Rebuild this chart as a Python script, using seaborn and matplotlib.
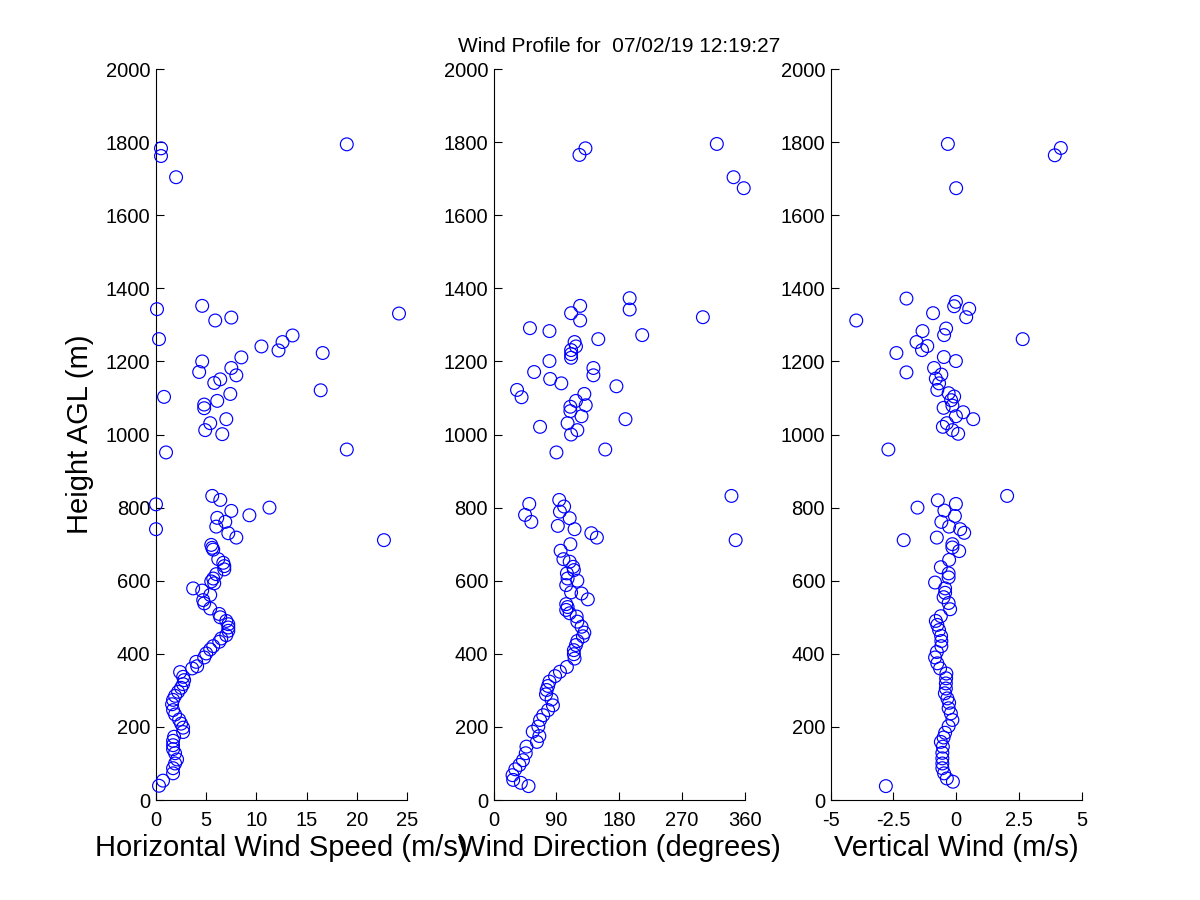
import matplotlib
matplotlib.use("Agg")
import matplotlib.pyplot as plt
import seaborn as sns
import numpy as np

# ---------------- data ----------------
speed_height = [39, 53, 73, 87, 100, 111, 128, 139, 150, 162, 173, 186, 198, 209, 220,
                234, 246, 262, 274, 285, 296, 307, 317, 328, 337, 350, 360, 366, 378, 390,
                401, 412, 421, 433, 442, 451, 463, 472, 481, 490, 500, 509, 524, 538, 547,
                561, 573, 579, 593, 598, 606, 618, 631, 640, 649, 659, 685, 690, 698, 711,
                718, 730, 741, 748, 761, 772, 779, 791, 800, 809, 821, 832, 951, 959, 1001,
                1012, 1031, 1042, 1072, 1082, 1092, 1103, 1111, 1121, 1141, 1151, 1162, 1171,
                1182, 1200, 1211, 1223, 1230, 1241, 1253, 1261, 1271, 1312, 1320, 1331, 1343,
                1352, 1704, 1762, 1783, 1794]
speed_value = [0.3, 0.7, 1.7, 1.7, 1.9, 2.1, 1.9, 1.7, 1.7, 1.7, 1.8, 2.7, 2.7, 2.5, 2.3,
               1.9, 1.7, 1.6, 1.7, 1.9, 2.2, 2.5, 2.7, 2.8, 2.7, 2.4, 3.6, 4.1, 4.0, 4.8,
               5.0, 5.4, 5.7, 6.3, 6.5, 7.0, 7.2, 7.2, 7.2, 7.0, 6.4, 6.3, 5.4, 4.8, 4.7,
               5.4, 4.6, 3.7, 5.8, 5.5, 5.7, 6.0, 6.8, 6.8, 6.7, 6.2, 5.7, 5.6, 5.5, 22.7,
               8.0, 7.2, 0.0, 6.0, 6.9, 6.1, 9.3, 7.5, 11.3, 0.0, 6.4, 5.6, 1.0, 19.0, 6.6,
               4.9, 5.4, 7.0, 4.8, 4.8, 6.1, 0.8, 7.4, 16.4, 5.8, 6.4, 8.0, 4.3,
               7.5, 4.6, 8.5, 16.6, 12.2, 10.5, 12.6, 0.3, 13.6, 5.9, 7.5, 24.2, 0.1,
               4.6, 2.0, 0.5, 0.5, 19.0]

direction_height = [38, 47, 55, 68, 84, 96, 109, 128, 146, 159, 175, 187, 201, 219, 232,
                    246, 259, 275, 289, 301, 312, 324, 339, 351, 364, 387, 399, 410, 424, 435,
                    448, 458, 474, 488, 502, 511, 520, 528, 536, 549, 565, 568, 588, 600, 606,
                    620, 629, 638, 652, 659, 682, 700, 711, 718, 730, 741, 750, 761, 771, 780,
                    789, 803, 810, 821, 832, 951, 959, 1000, 1012, 1021, 1031, 1042, 1050, 1064,
                    1076, 1080, 1092, 1102, 1111, 1122, 1132, 1140, 1152, 1162, 1171, 1182, 1201,
                    1210, 1220, 1231, 1241, 1253, 1261, 1272, 1283, 1291, 1312, 1321, 1332, 1342,
                    1352, 1373, 1674, 1704, 1765, 1783, 1795]
direction_value = [50, 39, 28, 27, 31, 37, 42, 46, 47, 62, 65.5, 56, 64, 66.5, 71,
                   78, 85, 83, 75, 76, 78, 80, 88, 95, 105, 116, 115, 115, 118, 120,
                   128, 130, 126, 120, 119, 109, 104, 106, 104, 135, 126, 111, 104, 120, 106,
                   105, 115, 114, 109, 100, 96, 110, 347, 148, 140, 116, 92, 54, 109, 45,
                   95, 101, 51, 94, 341, 90, 160, 111, 120, 66.5, 106, 189, 126, 110,
                   110, 132, 118, 40, 130, 33.5, 176, 97, 81, 143, 58, 143, 80,
                   111, 111, 111, 118, 116, 150, 213, 80, 52, 124, 300, 111, 195,
                   124, 195, 358.6, 344, 123, 131.6, 320]

vertical_height = [38, 50, 59, 73, 87, 100, 114, 129, 146, 159, 171, 184, 202, 219, 237,
                   251, 266, 278, 292, 305, 319, 333, 346, 360, 374, 390, 405, 421, 435, 449,
                   465, 479, 490, 503, 522, 539, 555, 567, 579, 595, 609, 620, 637, 657, 681,
                   691, 700, 711, 718, 731, 741, 748, 761, 777, 792, 800, 810, 820, 832, 959,
                   1002, 1012, 1021, 1031, 1042, 1050, 1061, 1073, 1079, 1094, 1104, 1113, 1122,
                   1140, 1153, 1164, 1170, 1182, 1201, 1212, 1223, 1231, 1242, 1253, 1261, 1272,
                   1283, 1290, 1312, 1321, 1332, 1344, 1351, 1363, 1372, 1674, 1764, 1784, 1795]
vertical_value = [-2.8, -0.13, -0.37, -0.48, -0.55, -0.55, -0.55, -0.55, -0.53, -0.61, -0.5, -0.44, -0.3, -0.15, -0.21,
                  -0.3, -0.28, -0.35, -0.45, -0.41, -0.41, -0.4, -0.39, -0.64, -0.75, -0.84, -0.77, -0.59, -0.59, -0.6,
                  -0.68, -0.75, -0.81, -0.61, -0.24, -0.3, -0.5, -0.44, -0.44, -0.84, -0.3, -0.3, -0.61, -0.28, 0.12,
                  -0.15, -0.15, -2.09, -0.77, 0.32, 0.16, -0.28, -0.59, -0.05, -0.47, -1.54, -0.01, -0.73, 2.03, -2.7,
                  0.08, -0.15, -0.53, -0.37, 0.68, -0.01, 0.28, -0.5, -0.15, -0.2, -0.08, -0.3, -0.75,
                  -0.68, -0.81, -0.59, -1.98, -0.88, -0.01, -0.49, -2.38, -1.36, -1.15, -1.58, 2.65, -0.48,
                  -1.34, -0.4, -3.98, 0.4, -0.92, 0.52, -0.08, -0.01, -1.98, 0.0, 3.93, 4.17, -0.33]

speed_ticks = [0, 5, 10, 15, 20, 25]
direction_ticks = [0, 90, 180, 270, 360]
vertical_ticks = [-5, -2.5, 0, 2.5, 5]
vertical_ticklabels = ["-5", "-2.5", "0", "2.5", "5"]
height_ticks = list(range(0, 2001, 200))

title_text = "Wind Profile for  07/02/19 12:19:27"
xlabels = ["Horizontal Wind Speed (m/s)", "Wind Direction (degrees)", "Vertical Wind (m/s)"]
ylabel_text = "Height AGL (m)"

# ---------------- styling ----------------
sns.set_theme(style="white")
plt.rcParams["font.family"] = ["Liberation Sans", "DejaVu Sans"]
plt.rcParams["xtick.direction"] = "in"
plt.rcParams["ytick.direction"] = "in"
plt.rcParams["axes.edgecolor"] = "black"
plt.rcParams["axes.linewidth"] = 0.8
plt.rcParams["text.color"] = "black"
plt.rcParams["axes.labelcolor"] = "black"
plt.rcParams["xtick.color"] = "black"
plt.rcParams["ytick.color"] = "black"

fig = plt.figure(figsize=(12, 9), dpi=100)
fig.patch.set_facecolor("white")

W = 0.2092
lefts = [0.130, 0.4114, 0.6922]
bottom, height = 0.1111, 0.8122
axes = [fig.add_axes([l, bottom, W, height]) for l in lefts]

datasets = [(speed_value, speed_height), (direction_value, direction_height),
            (vertical_value, vertical_height)]
xlims = [(0, 25), (0, 360), (-5, 5)]
xticks = [speed_ticks, direction_ticks, vertical_ticks]

for i, ax in enumerate(axes):
    xv, hv = datasets[i]
    sns.scatterplot(x=xv, y=hv, ax=ax, marker="o", s=85, facecolor="none",
                    edgecolor="#0000ff", linewidth=0.85, color="#0000ff", legend=False,
                    clip_on=False, zorder=3)
    ax.set_xlim(*xlims[i])
    ax.set_ylim(0, 2000)
    ax.set_xticks(xticks[i])
    ax.set_yticks(height_ticks)
    if i == 2:
        ax.set_xticklabels(vertical_ticklabels)
    ax.tick_params(axis="both", which="major", length=6, width=0.8, labelsize=14.5,
                   bottom=True, left=True, top=False, right=False)
    ax.tick_params(axis="x", pad=8)
    ax.tick_params(axis="y", pad=4)
    ax.set_facecolor("white")
    sns.despine(ax=ax, top=True, right=True)
    ax.set_xlabel(xlabels[i], fontsize=21, labelpad=3)
    ax.set_ylabel("")
    ax.grid(False)

axes[0].set_ylabel(ylabel_text, fontsize=21)
axes[0].yaxis.set_label_coords(-0.245, 0.5)
axes[1].set_title(title_text, fontsize=15, pad=12)

fig.savefig("out.png", dpi=100, facecolor="white")
